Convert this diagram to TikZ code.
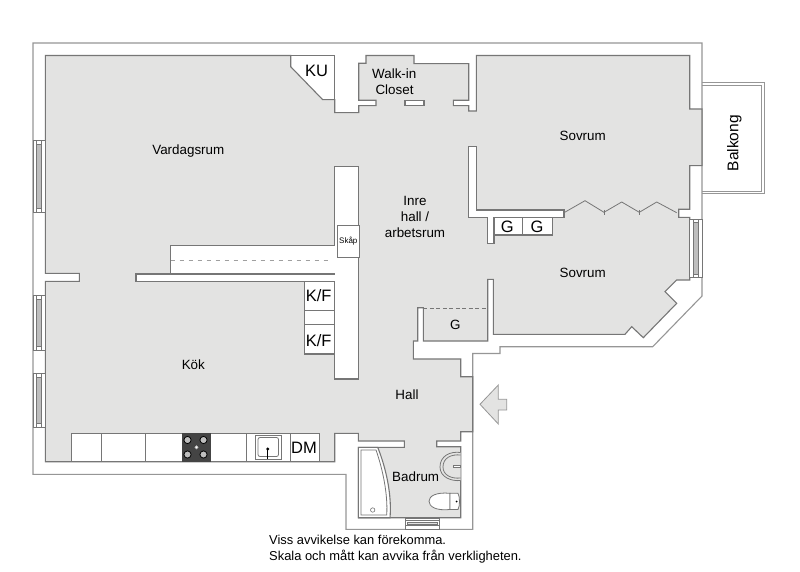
\documentclass[tikz,border=0pt]{standalone}
\usepackage{fontspec}
\setmainfont{Liberation Sans}
\usetikzlibrary{positioning}
\definecolor{roomgray}{RGB}{227, 227, 226}
\definecolor{wallline}{RGB}{118, 118, 118}
\definecolor{outerline}{RGB}{150, 150, 150}
\definecolor{glassgray}{RGB}{190, 190, 190}
\definecolor{stovegray}{RGB}{68, 68, 68}
\tikzset{
  wall/.style={draw=wallline, line width=1.1pt, fill=white, line join=miter},
  room/.style={draw=wallline, line width=1.1pt, fill=roomgray},
  thinline/.style={draw=wallline, line width=0.8pt},
  roomlabel/.style={font=\fontsize{13.4}{15}\selectfont, text=black, inner sep=0pt},
  biglabel/.style={font=\fontsize{16.5}{18}\selectfont, text=black, inner sep=0pt},
  notelabel/.style={font=\fontsize{12.9}{14}\selectfont, text=black, inner sep=0pt, anchor=west}
}
\begin{document}
\begin{tikzpicture}[x=1pt, y=-1pt]
        \useasboundingbox (0,0) rectangle (800,572);

        % Outer walls
        \draw[draw=outerline, line width=1.1pt, fill=white] (33,43) -- (702,43) -- (702,296) -- (652.7,346.7) -- (500,346.7) -- (500,353.5) -- (472.7,353.5) -- (472.7,529.3) -- (346,529.3) -- (346,474.3) -- (33,474.3) -- cycle;

        % Balcony
        \draw[draw=outerline, line width=0.9pt] (702,82.7) -- (764,82.7) -- (764,193.7) -- (702,193.7);
        \draw[draw=outerline, line width=0.9pt] (702,85.2) -- (761.7,85.2) -- (761.7,191.3) -- (702,191.3);

        % Floor of all rooms
        \draw[room] (45.3,55.5) -- (290.7,55.5) -- (290.7,66.7) -- (322.7,99.7) -- (334.7,99.7) -- (334.7,112.7) -- (358.7,112.7) -- (358.7,105.7) -- (376,105.7) -- (376,100.3) -- (358.7,100.3) -- (358.7,63.3) -- (366,63.3) -- (366,55.5) -- (414,55.5) -- (414,63.7) -- (468.7,63.7) -- (468.7,100.3) -- (453.3,100.3) -- (453.3,105.7) -- (468.7,105.7) -- (468.7,111) -- (476.3,111) -- (476.3,55.5) -- (689.7,55.5) -- (689.7,109) -- (702,109) -- (702,165.7) -- (689.7,165.7) -- (689.7,209.3) -- (678.7,209.3) -- (678.7,217.3) -- (689.7,217.3) -- (689.7,280) -- (676.7,280) -- (665,291.7) -- (676.7,303.3) -- (643.3,337.7) -- (631.7,326.7) -- (625,334.3) -- (493.3,334.3) -- (493.3,279.3) -- (487.7,279.3) -- (487.7,341) -- (423.3,341) -- (423.3,307.7) -- (417.7,307.7) -- (417.7,341) -- (413.3,341) -- (413.3,359) -- (460.7,359) -- (460.7,376.7) -- (472.7,376.7) -- (472.7,431.7) -- (460.7,431.7) -- (460.7,441) -- (436.7,441) -- (436.7,446.7) -- (460.7,446.7) -- (460.7,517.7) -- (358.3,517.7) -- (358.3,447.3) -- (404.3,447.3) -- (404.3,441) -- (358.3,441) -- (358.3,433.3) -- (334.7,433.3) -- (334.7,461.7) -- (45.3,461.7) -- (45.3,281.3) -- (79.3,281.3) -- (79.3,273.3) -- (45.3,273.3) -- cycle;

        % KU cupboard
        \draw[draw=wallline, line width=1.1pt] (290.7,55.5) -- (334.7,55.5) -- (334.7,99.7);

        % Inner walls
        \draw[wall] (136,274) -- (170.7,274) -- (170.7,245.7) -- (334.7,245.7) -- (334.7,166.7) -- (358.7,166.7) -- (358.7,379) -- (334.7,379) -- (334.7,281.3) -- (136,281.3) -- cycle;
        \draw[wall] (468.7,146.7) -- (476.3,146.7) -- (476.3,210) -- (564,210) -- (564,217.3) -- (494,217.3) -- (494,243.3) -- (487.3,243.3) -- (487.3,217.3) -- (468.7,217.3) -- cycle;
        \draw[wall] (405,100.3) rectangle (424,105.7);

        % Storage
        \draw[wall] (170.7,274) -- (334.7,274);
        \draw[draw=wallline!70, line width=0.9pt, dash pattern=on 4.5pt off 4.5pt] (170.7,260) -- (330,260);
        \draw[draw=wallline, line width=0.8pt, dash pattern=on 4pt off 2.5pt] (423.3,308) -- (487.7,308);
        \draw[wall] (337.3,225.3) rectangle (359.3,257.3);
        \draw[wall] (494,217.3) rectangle (552.3,235);
        \draw[thinline] (522.7,217.3) -- (522.7,235);
        \draw[wall] (304.3,281.3) rectangle (334.7,354);
        \draw[thinline] (304.3,310) -- (334.7,310);
        \draw[thinline] (304.3,324.7) -- (334.7,324.7);

        % Folding doors
        \draw[thinline] (564,212.7) -- (585,200.7) -- (604,212.3) -- (621.7,202) -- (639.3,212.3) -- (656.7,202) -- (676.7,212.7);
        \foreach \tickx/\ticky in {604/212.3, 639.3/212.3}
          \draw[thinline] (\tickx,\ticky-2.5) -- (\tickx,\ticky+2.5);

        % Windows
        \foreach \winy/\winb in {140.7/212.3, 295/350.7, 373.3/427.3} {
          \draw[thinline, fill=white] (33,\winy) rectangle (45.3,\winb);
          \draw[thinline, fill=glassgray] (36,\winy+4) rectangle (41.3,\winb-4);
          \draw[thinline] (36,\winy) -- (36,\winy+4) (41.3,\winy) -- (41.3,\winy+4);
          \draw[thinline] (36,\winb) -- (36,\winb-4) (41.3,\winb) -- (41.3,\winb-4);
        }
        \draw[thinline, fill=white] (689.7,219.3) rectangle (702,277.3);
        \draw[thinline, fill=glassgray] (693.3,222.5) rectangle (698.7,274);
        \draw[thinline] (693.3,219.3) -- (693.3,222.5) (698.7,219.3) -- (698.7,222.5);
        \draw[thinline] (693.3,277.3) -- (693.3,274) (698.7,277.3) -- (698.7,274);
        \draw[thinline, fill=white] (405.7,518) rectangle (439.3,529.3);
        \draw[thinline] (405.7,520.5) -- (439.3,520.5) (405.7,525.5) -- (439.3,525.5);
        \draw[thinline, fill=glassgray!50] (407.5,522) rectangle (437.5,524.5);

        % Kitchen counter
        \draw[wall] (71.7,433.3) rectangle (319.3,461.7);
        \foreach \cutx in {101.3,145.7,246.7,290.3}
          \draw[thinline] (\cutx,433.3) -- (\cutx,461.7);
        \fill[stovegray] (182,433.3) rectangle (211,461.7);
        \foreach \platex/\platey in {187.5/440, 203.5/440, 187.5/454.5, 203.5/454.5}
          \draw[draw=black, line width=0.8pt, fill=glassgray] (\platex,\platey) circle (3.6);
        \draw[draw=glassgray, line width=0.5pt, fill=white] (196.5,447.3) circle (1.6);

        % Sink
        \draw[thinline, fill=white] (255.3,435.3) rectangle (281,459);
        \draw[thinline, rounded corners=2pt] (258,437.5) rectangle (278.5,456.5);
        \draw[draw=black, line width=0.9pt] (267.7,449) -- (267.7,459);
        \fill[black] (267.7,449) circle (1.7);

        % Bath
        \draw[wall] (358.3,447.3) -- (377.7,447.3) .. controls (386,468) and (392,495) .. (390,517.7) -- (358.3,517.7) -- cycle;
        \draw[thinline] (361,450) -- (376,450) .. controls (383,470) and (388,495) .. (386.7,515) -- (361,515) -- cycle;
        \draw[draw=wallline, line width=0.6pt] (372.7,510) circle (2.2);
        \draw[thinline, fill=roomgray] (460.7,452.5) .. controls (450,451) and (440,456) .. (440,467) .. controls (440,477) and (451,481.5) .. (460.7,480.5);
        \draw[thinline] (460.7,455) .. controls (451,454) and (443,458) .. (443,467) .. controls (443,475) and (451,479) .. (460.7,478);
        \draw[thinline, fill=white] (453,465.5) rectangle (460.7,467.5);

        % Toilet
        \draw[thinline, fill=white] (450,493.3) .. controls (436,492) and (429,496) .. (429,501.3) .. controls (429,506.5) and (436,511) .. (450,509.5) -- cycle;
        \draw[thinline, fill=white] (450,493.3) -- (458,493.3) .. controls (460,497) and (460,506) .. (458,509.5) -- (450,509.5) -- cycle;
        \draw[draw=wallline, line width=1pt] (460.7,490) -- (460.7,513);
        \fill[black] (456.5,501.5) circle (1);

        % Entrance arrow
        \draw[draw=outerline, line width=0.8pt, fill=roomgray] (480,404.3) -- (498.3,385) -- (498.3,399.3) -- (506.7,399.3) -- (506.7,410) -- (498.3,410) -- (498.3,424) -- cycle;

        % Labels
        \node[roomlabel] (vardagsrum) at (188.3,151) {Vardagsrum};
        \node[biglabel] (ku) at (316.7,71.3) {KU};
        \node[roomlabel] (walkin) at (394.3,74) {Walk-in};
        \node[roomlabel] (closet) at (394.5,90) {Closet};
        \node[roomlabel] (sovrumone) at (582.7,135.7) {Sovrum};
        \node[roomlabel] (sovrumtwo) at (582.7,273.3) {Sovrum};
        \node[font=\fontsize{15.5}{17}\selectfont, inner sep=0pt, rotate=90] (balkong) at (734.3,143.3) {Balkong};
        \node[roomlabel] (inre) at (415,201) {Inre};
        \node[roomlabel] (hallslash) at (415,217) {hall /};
        \node[roomlabel] (arbetsrum) at (415,233) {arbetsrum};
        \node[font=\fontsize{8}{9}\selectfont, inner sep=0pt] (skap) at (348.3,241.5) {Skåp};
        \node[biglabel] (gone) at (507.3,226.7) {G};
        \node[biglabel] (gtwo) at (537,226.7) {G};
        \node[roomlabel] (gthree) at (455.3,325.3) {G};
        \node[biglabel] (kfone) at (318.7,295.3) {K/F};
        \node[biglabel] (kftwo) at (318.7,340.7) {K/F};
        \node[roomlabel] (kok) at (193.3,365) {Kök};
        \node[roomlabel] (hall) at (407,394.7) {Hall};
        \node[roomlabel] (badrum) at (415.7,476.7) {Badrum};
        \node[biglabel] (dm) at (304,447.7) {DM};
        \node[notelabel] (noteone) at (269,540) {Viss avvikelse kan förekomma.};
        \node[notelabel] (notetwo) at (269,557) {Skala och mått kan avvika från verkligheten.};
      \end{tikzpicture}
\end{document}
